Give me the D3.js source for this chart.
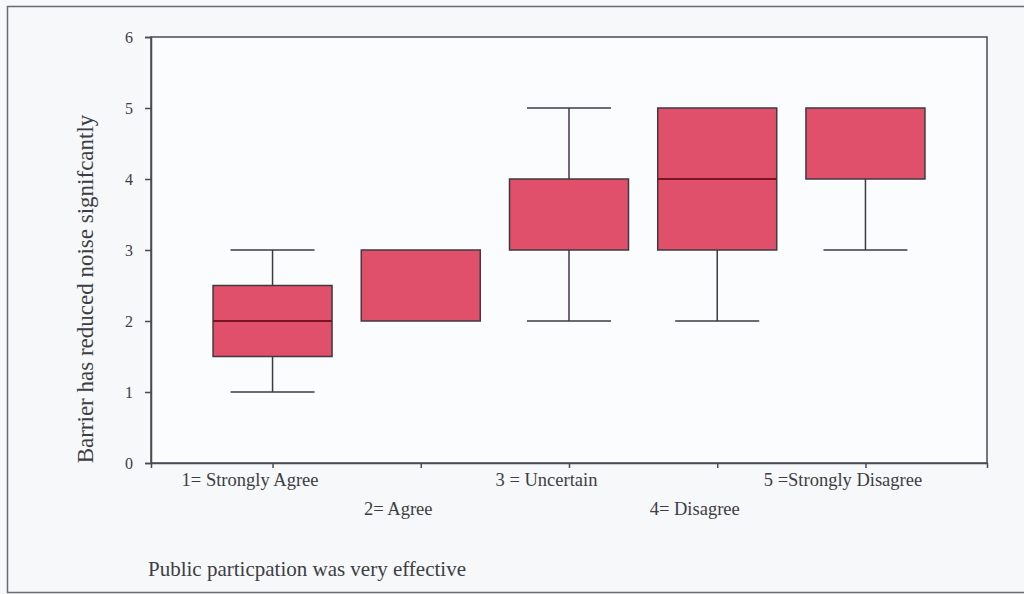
<!DOCTYPE html>
<html>
<head>
<meta charset="utf-8">
<script src="https://cdn.jsdelivr.net/npm/d3@7"></script>
<style>
  body { margin: 0; background: #f6f8f9; }
  svg { display: block; }
  text { font-family: "Liberation Serif", "DejaVu Serif", serif; fill: #3d3d45; }
</style>
</head>
<body>
<svg id="chart" width="1024" height="594"></svg>
<script>
// categories and box statistics (min, q1, median, q3, max)
const categories = ["1= Strongly Agree", "2= Agree", "3 = Uncertain", "4= Disagree", "5 =Strongly Disagree"];
const whisker_low = [1, 2, 2, 2, 3];
const q1_values = [1.5, 2, 3, 3, 4];
const median_values = [2, 3, 4, 4, 5];
const q3_values = [2.5, 3, 4, 5, 5];
const whisker_high = [3, 3, 5, 5, 5];
const y_ticks = [0, 1, 2, 3, 4, 5, 6];

const y_title = "Barrier has reduced noise signifcantly";
const x_title = "Public particpation was very effective";

const vis = {

    margin : { left : 151, top : 37, right : 987, bottom : 463 },

    svg : d3.select("#chart"),

    frame : function() {
        // outer scanned frame
        this.svg.append("path")
            .attr("d", "M1024,6.5 L7.5,6.5 L7.5,592.5 L1024,592.5")
            .attr("fill", "none")
            .attr("stroke", "#6a6a72")
            .attr("stroke-width", 1.5);
    },

    draw : function() {

        const m = this.margin;

        const x = d3.scalePoint()
            .domain(categories)
            .range([m.left, m.right])
            .padding(0.82);

        const y = d3.scaleLinear()
            .domain([0, 6])
            .range([m.bottom, m.top]);

        // plot border
        this.svg.append("rect")
            .attr("x", m.left)
            .attr("y", m.top)
            .attr("width", m.right - m.left)
            .attr("height", m.bottom - m.top)
            .attr("fill", "#fbfcfd")
            .attr("stroke", "#4a4a55")
            .attr("stroke-width", 1.5);

        const yAxis = this.svg.append("g")
            .attr("transform", `translate(${m.left},0)`)
            .call(d3.axisLeft(y).tickValues(y_ticks).tickFormat(d3.format("d")).tickSize(6).tickPadding(12));

        const xAxis = this.svg.append("g")
            .attr("transform", `translate(0,${m.bottom})`)
            .call(d3.axisBottom(x).tickSize(5).tickPadding(5));

        [yAxis, xAxis].forEach(g => {
            g.select(".domain").attr("stroke", "#4a4a55").attr("stroke-width", 1.5);
            g.selectAll(".tick line").attr("stroke", "#4a4a55").attr("stroke-width", 1.5);
            g.selectAll("text").attr("font-size", 18.5).attr("fill", "#4a4a52")
              .attr("font-family", "Liberation Serif, serif");
        });
        yAxis.selectAll("text").attr("fill", "#7a7a82").attr("font-size", 16);

        // stagger the category labels on two rows, set a bit left of the tick
        xAxis.selectAll(".tick text")
            .attr("dx", -23)
            .attr("dy", (d, i) => i % 2 ? "2.25em" : "0.71em");

        const data = categories.map((c, i) => ({
            cat : c,
            lo : whisker_low[i], q1 : q1_values[i], med : median_values[i],
            q3 : q3_values[i], hi : whisker_high[i]
        }));

        const boxW = 119, capW = 84;
        const stroke = "#3e3a42";

        const g = this.svg.append("g");

        const box = g.selectAll("g.box").data(data).join("g").attr("class", "box");

        // whiskers
        box.append("line")
            .attr("x1", d => x(d.cat)).attr("x2", d => x(d.cat))
            .attr("y1", d => y(d.hi)).attr("y2", d => y(d.lo))
            .attr("stroke", stroke).attr("stroke-width", 1.5);

        box.filter(d => d.hi > d.q3).append("line")
            .attr("x1", d => x(d.cat) - capW / 2).attr("x2", d => x(d.cat) + capW / 2)
            .attr("y1", d => y(d.hi)).attr("y2", d => y(d.hi))
            .attr("stroke", stroke).attr("stroke-width", 1.5);

        box.filter(d => d.lo < d.q1).append("line")
            .attr("x1", d => x(d.cat) - capW / 2).attr("x2", d => x(d.cat) + capW / 2)
            .attr("y1", d => y(d.lo)).attr("y2", d => y(d.lo))
            .attr("stroke", stroke).attr("stroke-width", 1.5);

        box.append("rect")
            .attr("x", d => x(d.cat) - boxW / 2)
            .attr("width", boxW)
            .attr("y", d => y(d.q3))
            .attr("height", d => y(d.q1) - y(d.q3))
            .attr("fill", "#e0506b")
            .attr("stroke", stroke)
            .attr("stroke-width", 1.5);

        box.filter(d => d.med > d.q1 && d.med < d.q3).append("line")
            .attr("x1", d => x(d.cat) - boxW / 2).attr("x2", d => x(d.cat) + boxW / 2)
            .attr("y1", d => y(d.med)).attr("y2", d => y(d.med))
            .attr("stroke", "#7a1424").attr("stroke-width", 2);

        // titles
        this.svg.append("text")
            .attr("transform", `translate(93,289) rotate(-90)`)
            .attr("text-anchor", "middle")
            .attr("font-size", 23)
            .attr("fill", "#4a4a52")
            .text(y_title);

        this.svg.append("text")
            .attr("x", 148)
            .attr("y", 576)
            .attr("font-size", 21)
            .attr("fill", "#3d3d45")
            .text(x_title);
    },

    init : function() {
        this.frame();
        this.draw();
    }
};

vis.init();
</script>
</body>
</html>
